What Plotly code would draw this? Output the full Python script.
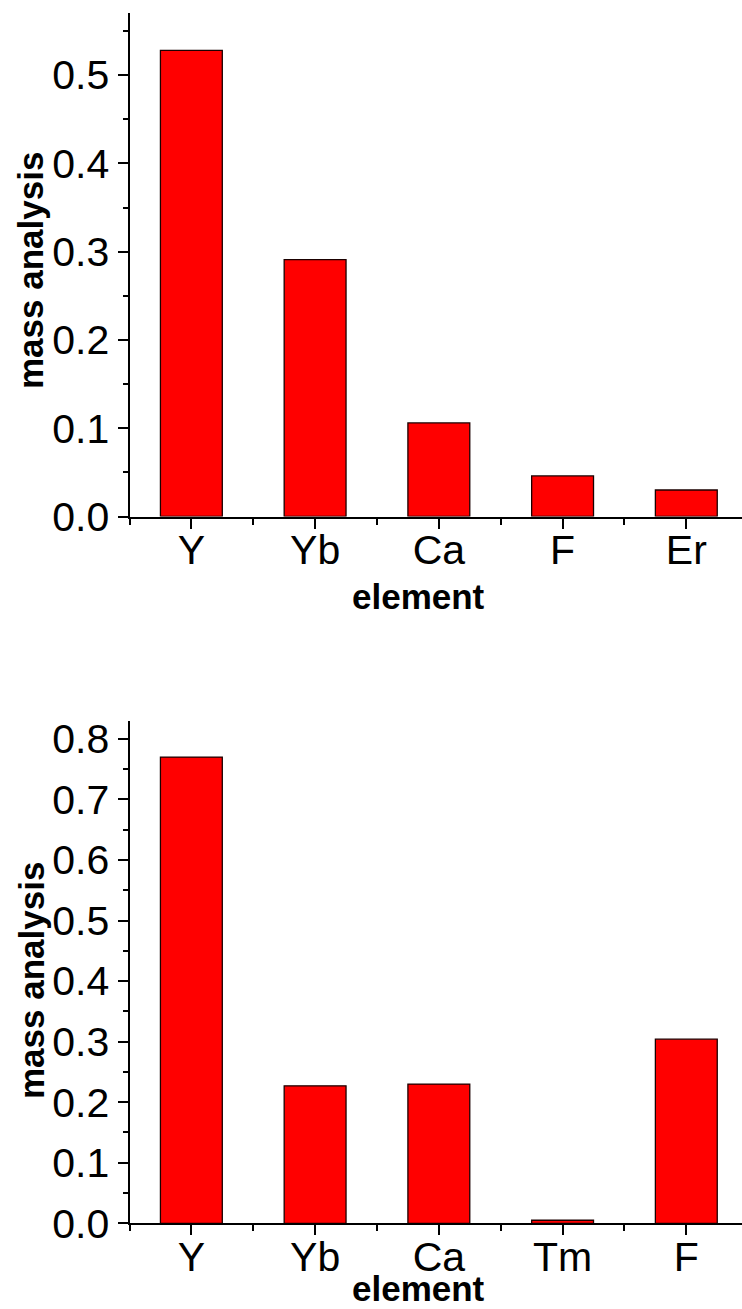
import plotly.graph_objects as go

# Elemental mass fractions for the two samples
elements_a = ["Y", "Yb", "Ca", "F", "Er"]
mass_a = [0.528, 0.291, 0.106, 0.046, 0.030]

elements_b = ["Y", "Yb", "Ca", "Tm", "F"]
mass_b = [0.770, 0.227, 0.230, 0.005, 0.304]

y_ticks_a = [0.0, 0.1, 0.2, 0.3, 0.4, 0.5]
y_ticks_b = [0.0, 0.1, 0.2, 0.3, 0.4, 0.5, 0.6, 0.7, 0.8]

W, H = 742, 1309
FONT = "Liberation Sans, Arial, sans-serif"
TICK_SIZE = 41
TITLE_SIZE = 35


def px_y(p):
    return 1 - p / H


fig = go.Figure()

fig.add_trace(go.Bar(
    x=list(range(len(elements_a))), y=mass_a, width=0.5,
    marker=dict(color="#ff0000", line=dict(color="#1a0000", width=1.3)),
    xaxis="x", yaxis="y", showlegend=False,
))
fig.add_trace(go.Bar(
    x=list(range(len(elements_b))), y=mass_b, width=0.5,
    marker=dict(color="#ff0000", line=dict(color="#1a0000", width=1.3)),
    xaxis="x2", yaxis="y2", showlegend=False,
))

x_dom = [129.5 / W, 1.0]


def xaxis_cfg(names, anchor):
    n = len(names)
    return dict(
        domain=x_dom, anchor=anchor, range=[-0.5, n - 0.55],
        automargin=False,
        tickmode="array", tickvals=list(range(n)), ticktext=names,
        ticks="outside", ticklen=10, tickwidth=2, tickcolor="black",
        ticklabelstandoff=-14,
        minor=dict(tickmode="array", tickvals=[i - 0.5 for i in range(n + 1)],
                   ticks="outside", ticklen=6, tickwidth=2, tickcolor="black"),
        showline=True, linecolor="black", linewidth=2,
        showgrid=False, zeroline=False,
        tickfont=dict(family=FONT, size=TICK_SIZE, color="black"),
        fixedrange=True,
    )


def yaxis_cfg(top_px, bottom_px, rng, ticks, anchor):
    return dict(
        domain=[px_y(bottom_px), px_y(top_px)], anchor=anchor, range=rng,
        automargin=False,
        tickmode="array", tickvals=ticks, ticktext=[f"{t:.1f}" for t in ticks],
        ticks="outside", ticklen=10, tickwidth=2, tickcolor="black",
        minor=dict(dtick=0.05, tick0=0, ticks="outside", ticklen=5,
                   tickwidth=2, tickcolor="black"),
        showline=True, linecolor="black", linewidth=2,
        showgrid=False, zeroline=False,
        tickfont=dict(family=FONT, size=TICK_SIZE, color="black"),
        fixedrange=True,
    )


fig.update_layout(
    width=W, height=H,
    template="none",
    margin=dict(l=0, r=0, t=0, b=0, autoexpand=False),
    paper_bgcolor="white", plot_bgcolor="white",
    xaxis=xaxis_cfg(elements_a, "y"),
    yaxis=yaxis_cfg(13.3, 516.5, [0, 0.57], y_ticks_a, "x"),
    xaxis2=xaxis_cfg(elements_b, "y2"),
    yaxis2=yaxis_cfg(720.7, 1223.3, [0, 0.83], y_ticks_b, "x2"),
)

title_font = dict(family=FONT, size=TITLE_SIZE, color="black", weight="bold")
annotations = [
    dict(text="mass analysis", x=31 / W, y=px_y(271), textangle=-90,
         yanchor="middle"),
    dict(text="element", x=418 / W, y=px_y(596), yanchor="middle"),
    dict(text="mass analysis", x=31 / W, y=px_y(981), textangle=-90,
         yanchor="middle"),
    dict(text="element", x=418 / W, y=0, yanchor="bottom"),
]
for a in annotations:
    fig.add_annotation(xref="paper", yref="paper", xanchor="center",
                       showarrow=False, font=title_font, borderpad=0, **a)

fig.write_html("out.html")
